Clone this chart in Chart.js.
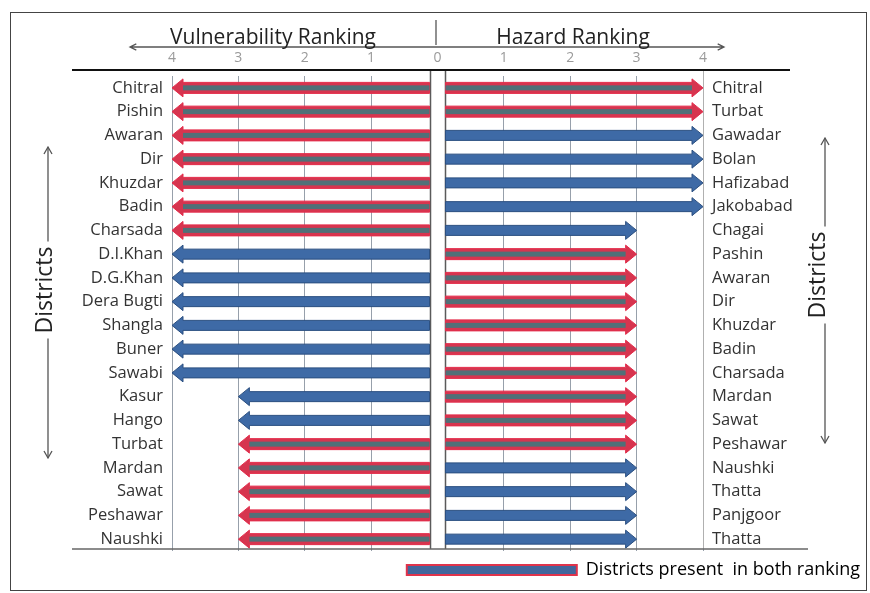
<!DOCTYPE html>
<html lang="en">
<head>
<meta charset="UTF-8">
<title>Vulnerability and Hazard Ranking</title>
<script src="https://cdn.jsdelivr.net/npm/chart.js"></script>
<style>
  html, body { margin: 0; padding: 0; background: #fff; }
</style>
</head>
<body>
<canvas id="rankChart" width="870" height="593"></canvas>
<script>
// left side, top to bottom
const vulnerabilityDistricts = ['Chitral', 'Pishin', 'Awaran', 'Dir', 'Khuzdar', 'Badin', 'Charsada',
  'D.I.Khan', 'D.G.Khan', 'Dera Bugti', 'Shangla', 'Buner', 'Sawabi', 'Kasur', 'Hango',
  'Turbat', 'Mardan', 'Sawat', 'Peshawar', 'Naushki'];
const vulnerabilityRank = [4, 4, 4, 4, 4, 4, 4, 4, 4, 4, 4, 4, 4, 3, 3, 3, 3, 3, 3, 3];
const vulnerabilityInBoth = [1, 1, 1, 1, 1, 1, 1, 0, 0, 0, 0, 0, 0, 0, 0, 1, 1, 1, 1, 1];

// right side, top to bottom
const hazardDistricts = ['Chitral', 'Turbat', 'Gawadar', 'Bolan', 'Hafizabad', 'Jakobabad', 'Chagai',
  'Pashin', 'Awaran', 'Dir', 'Khuzdar', 'Badin', 'Charsada', 'Mardan', 'Sawat', 'Peshawar',
  'Naushki', 'Thatta', 'Panjgoor', 'Thatta'];
const hazardRank = [4, 4, 4, 4, 4, 4, 3, 3, 3, 3, 3, 3, 3, 3, 3, 3, 3, 3, 3, 3];
const hazardInBoth = [1, 1, 0, 0, 0, 0, 0, 1, 1, 1, 1, 1, 1, 1, 1, 1, 0, 0, 0, 0];

const rankTicks = [-4, -3, -2, -1, 0, 1, 2, 3, 4];
const legendText = 'Districts present  in both ranking';

// gap between the two panels, in rank units on each side of 0
const GAP = 0.12;
const FONT = '"Open Sans", Lato, sans-serif';
const BLUE = '#3e6aa6', BLUE_EDGE = '#2b4f80';
const RED = '#d6354f', RED_EDGE = '#e42c4b', CORE = '#507078';

function arrowPath(ctx, base, tip, y, shaft, head, headLen) {
  const d = Math.sign(tip - base);
  const neck = tip - d * headLen;
  ctx.beginPath();
  ctx.moveTo(base, y - shaft / 2);
  ctx.lineTo(neck, y - shaft / 2);
  ctx.lineTo(neck, y - head / 2);
  ctx.lineTo(tip, y);
  ctx.lineTo(neck, y + head / 2);
  ctx.lineTo(neck, y + shaft / 2);
  ctx.lineTo(base, y + shaft / 2);
  ctx.closePath();
}

function lineArrow(ctx, x1, y1, x2, y2) {
  // plain line with open arrow heads at both ends
  const a = Math.atan2(y2 - y1, x2 - x1), h = 7;
  ctx.beginPath();
  ctx.moveTo(x1, y1); ctx.lineTo(x2, y2);
  [[x2, y2, a], [x1, y1, a + Math.PI]].forEach(([x, y, t]) => {
    ctx.moveTo(x - h * Math.cos(t - 0.45), y - h * Math.sin(t - 0.45));
    ctx.lineTo(x, y);
    ctx.lineTo(x - h * Math.cos(t + 0.45), y - h * Math.sin(t + 0.45));
  });
  ctx.stroke();
}

const arrowBars = {
  id: 'arrowBars',
  afterDatasetsDraw(chart) {
    const ctx = chart.ctx;
    chart.data.datasets.forEach((ds, i) => {
      const meta = chart.getDatasetMeta(i);
      meta.data.forEach((el, j) => {
        const p = el.getProps(['x', 'y', 'base'], true);
        const left = i === 0;
        const tip = left ? Math.min(p.x, p.base) : Math.max(p.x, p.base);
        const base = left ? Math.max(p.x, p.base) : Math.min(p.x, p.base);
        ctx.save();
        if (ds.inBoth[j]) {
          arrowPath(ctx, base, tip, p.y, 11, 18, 11);
          ctx.fillStyle = RED; ctx.fill();
          ctx.strokeStyle = RED_EDGE; ctx.lineWidth = 1; ctx.stroke();
          const neck = tip - Math.sign(tip - base) * 11;
          ctx.fillStyle = CORE;
          ctx.fillRect(Math.min(base, neck), p.y - 2.5, Math.abs(neck - base), 5);
        } else {
          arrowPath(ctx, base, tip, p.y, 10, 18, 11);
          ctx.fillStyle = BLUE; ctx.fill();
          ctx.strokeStyle = BLUE_EDGE; ctx.lineWidth = 1; ctx.stroke();
        }
        ctx.restore();
      });
    });
  }
};

const decor = {
  id: 'decor',
  beforeDraw(chart) {
    const ctx = chart.ctx;
    ctx.save();
    ctx.fillStyle = '#fff';
    ctx.fillRect(0, 0, chart.width, chart.height);
    ctx.restore();
  },
  beforeDatasetsDraw(chart) {
    const { ctx, chartArea: ca, scales } = chart;
    const x = scales.x;
    ctx.save();
    // inner panel edges
    ctx.strokeStyle = '#5a5a5a';
    ctx.lineWidth = 1.5;
    [-GAP, GAP].forEach(v => {
      const px = Math.round(x.getPixelForValue(v)) + 0.5;
      ctx.beginPath(); ctx.moveTo(px, ca.top - 6); ctx.lineTo(px, ca.bottom - 2); ctx.stroke();
    });
    // right label column rule
    ctx.strokeStyle = '#b0b0b0';
    ctx.lineWidth = 1;
    ctx.beginPath(); ctx.moveTo(ca.right + 0.5, ca.top - 6); ctx.lineTo(ca.right + 0.5, ca.bottom - 2); ctx.stroke();
    ctx.restore();
  },
  afterDraw(chart) {
    const { ctx, chartArea: ca, scales } = chart;
    const x = scales.x;
    const zero = x.getPixelForValue(0);
    ctx.save();
    // heavy rule under tick labels, lighter rule at the bottom
    ctx.strokeStyle = '#111';
    ctx.lineWidth = 2;
    ctx.beginPath(); ctx.moveTo(72, ca.top - 6); ctx.lineTo(790, ca.top - 6); ctx.stroke();
    ctx.strokeStyle = '#666';
    ctx.lineWidth = 1.5;
    ctx.beginPath(); ctx.moveTo(72, ca.bottom - 2); ctx.lineTo(808, ca.bottom - 2); ctx.stroke();

    // ranking direction arrow and titles
    ctx.strokeStyle = '#555';
    ctx.lineWidth = 1.3;
    lineArrow(ctx, 130, 47, 724, 47);
    ctx.beginPath(); ctx.moveTo(zero - 1.5, 20); ctx.lineTo(zero - 1.5, 45); ctx.stroke();
    ctx.fillStyle = '#222';
    ctx.font = '21px ' + FONT;
    ctx.textAlign = 'center';
    ctx.textBaseline = 'alphabetic';
    ctx.fillText('Vulnerability Ranking', 273, 44);
    ctx.fillText('Hazard Ranking', 573, 44);

    // vertical "Districts" labels with arrows
    ctx.font = '23px ' + FONT;
    ctx.textBaseline = 'middle';
    [[45, 48, 147, 458, 290], [818, 825, 138, 443, 275]].forEach(([tx, lx, y1, y2, ty]) => {
      ctx.save();
      ctx.translate(tx, ty);
      ctx.rotate(-Math.PI / 2);
      ctx.fillText('Districts', 0, 0);
      const w = ctx.measureText('Districts').width / 2 + 5;
      ctx.restore();
      ctx.beginPath(); ctx.moveTo(lx, y1); ctx.lineTo(lx, ty - w); ctx.moveTo(lx, ty + w); ctx.lineTo(lx, y2); ctx.stroke();
      ctx.beginPath();
      ctx.moveTo(lx - 4, y1 + 7); ctx.lineTo(lx, y1); ctx.lineTo(lx + 4, y1 + 7);
      ctx.moveTo(lx - 4, y2 - 7); ctx.lineTo(lx, y2); ctx.lineTo(lx + 4, y2 - 7);
      ctx.stroke();
    });

    // outer frame
    ctx.strokeStyle = '#444';
    ctx.lineWidth = 1;
    ctx.strokeRect(10.5, 12.5, 856, 578);
    ctx.restore();
  }
};

new Chart(document.getElementById('rankChart'), {
  type: 'bar',
  data: {
    labels: vulnerabilityDistricts,
    datasets: [
      {
        label: 'Vulnerability',
        data: vulnerabilityRank.map(v => [-v, -GAP]),
        inBoth: vulnerabilityInBoth,
        yAxisID: 'y',
        grouped: false,
        backgroundColor: 'rgba(0,0,0,0)',
        borderWidth: 0
      },
      {
        label: 'Hazard',
        data: hazardRank.map(v => [GAP, v]),
        inBoth: hazardInBoth,
        yAxisID: 'y2',
        grouped: false,
        backgroundColor: 'rgba(0,0,0,0)',
        borderWidth: 0
      }
    ]
  },
  options: {
    indexAxis: 'y',
    responsive: false,
    animation: false,
    devicePixelRatio: 1,
    events: [],
    layout: { padding: { top: 0, left: 0, right: 0, bottom: 4 } },
    scales: {
      x: {
        type: 'linear',
        position: 'top',
        min: -4,
        max: 4,
        afterBuildTicks: s => { s.ticks = rankTicks.map(v => ({ value: v })); },
        afterFit: s => { s.height = 76; },
        border: { display: false },
        grid: {
          drawTicks: false,
          color: c => (c.tick && c.tick.value === 0) ? 'rgba(0,0,0,0)' : '#97a0ab',
          lineWidth: 1
        },
        ticks: {
          padding: 10,
          color: '#9a9a9a',
          font: { family: FONT, size: 14 },
          callback: v => Math.abs(v)
        }
      },
      y: {
        type: 'category',
        position: 'left',
        afterFit: s => { s.width = 172; },
        border: { display: false },
        grid: { display: false },
        ticks: { padding: 1, color: '#333', font: { family: FONT, size: 16.5 } }
      },
      y2: {
        type: 'category',
        position: 'right',
        labels: hazardDistricts,
        afterFit: s => { s.width = 167; },
        border: { display: false },
        grid: { display: false },
        ticks: { padding: 1, color: '#333', font: { family: FONT, size: 16.5 } }
      }
    },
    plugins: {
      tooltip: { enabled: false },
      legend: {
        position: 'bottom',
        align: 'end',
        labels: {
          boxWidth: 170,
          boxHeight: 10,
          padding: 10,
          color: '#333',
          font: { family: FONT, size: 18 },
          generateLabels: () => [{
            text: legendText,
            fillStyle: '#42669c',
            strokeStyle: '#e0334b',
            lineWidth: 2,
            hidden: false,
            datasetIndex: 0
          }]
        }
      }
    }
  },
  plugins: [decor, arrowBars]
});
</script>
</body>
</html>
